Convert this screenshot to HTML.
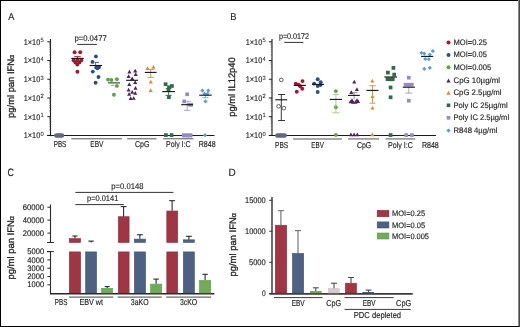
<!DOCTYPE html>
<html><head><meta charset="utf-8"><style>
html,body{margin:0;padding:0;background:#fff;width:520px;height:327px;overflow:hidden}
svg{display:block;will-change:transform}
text{text-rendering:geometricPrecision;font-family:"Liberation Sans",sans-serif;fill:#1e1e1e;stroke:#1e1e1e;stroke-width:0.15px}
</style></head><body>
<svg width="520" height="327" viewBox="0 0 520 327">
<rect width="520" height="327" fill="#fff"/>
<rect x="0" y="0" width="520" height="1" fill="#000" />
<rect x="0" y="0" width="1" height="327" fill="#000" />
<rect x="0" y="326" width="520" height="1" fill="#000" />
<rect x="518" y="0" width="1" height="326" fill="#8a8a8a" />
<rect x="519" y="0" width="1" height="327" fill="#474747" />
<text x="8.2" y="20" font-size="10" textLength="6.1" lengthAdjust="spacingAndGlyphs" fill="#222" >A</text>
<text x="230.3" y="20" font-size="10" textLength="6.2" lengthAdjust="spacingAndGlyphs" fill="#222" >B</text>
<text x="7.6" y="176" font-size="10.6" textLength="6.4" lengthAdjust="spacingAndGlyphs" fill="#222" >C</text>
<text x="228.6" y="175.7" font-size="10.6" textLength="7.2" lengthAdjust="spacingAndGlyphs" fill="#222" >D</text>
<line x1="50.5" y1="39" x2="50.5" y2="136.1" stroke="#222" stroke-width="1.15" />
<line x1="47.3" y1="135.4" x2="50.5" y2="135.4" stroke="#222" stroke-width="1" />
<text x="40.2" y="138.3" font-size="8.2" text-anchor="end" textLength="16.4" lengthAdjust="spacingAndGlyphs" fill="#333" >1×10</text>
<text x="40.4" y="135.70000000000002" font-size="6.0" textLength="3.2" lengthAdjust="spacingAndGlyphs" fill="#333" style="stroke-width:0.05px">0</text>
<line x1="49.2" y1="129.7647184811703" x2="50.5" y2="129.7647184811703" stroke="#555" stroke-width="0.6" />
<line x1="49.2" y1="126.46829011164793" x2="50.5" y2="126.46829011164793" stroke="#555" stroke-width="0.6" />
<line x1="49.2" y1="124.12943696234055" x2="50.5" y2="124.12943696234055" stroke="#555" stroke-width="0.6" />
<line x1="49.2" y1="122.31528151882974" x2="50.5" y2="122.31528151882974" stroke="#555" stroke-width="0.6" />
<line x1="49.2" y1="120.8330085928182" x2="50.5" y2="120.8330085928182" stroke="#555" stroke-width="0.6" />
<line x1="49.2" y1="119.57976469093312" x2="50.5" y2="119.57976469093312" stroke="#555" stroke-width="0.6" />
<line x1="49.2" y1="118.49415544351082" x2="50.5" y2="118.49415544351082" stroke="#555" stroke-width="0.6" />
<line x1="49.2" y1="117.53658022329584" x2="50.5" y2="117.53658022329584" stroke="#555" stroke-width="0.6" />
<line x1="47.3" y1="116.68" x2="50.5" y2="116.68" stroke="#222" stroke-width="1" />
<text x="40.2" y="119.58000000000001" font-size="8.2" text-anchor="end" textLength="16.4" lengthAdjust="spacingAndGlyphs" fill="#333" >1×10</text>
<text x="40.4" y="116.98" font-size="6.0" textLength="3.2" lengthAdjust="spacingAndGlyphs" fill="#333" style="stroke-width:0.05px">1</text>
<line x1="49.2" y1="111.04471848117028" x2="50.5" y2="111.04471848117028" stroke="#555" stroke-width="0.6" />
<line x1="49.2" y1="107.74829011164793" x2="50.5" y2="107.74829011164793" stroke="#555" stroke-width="0.6" />
<line x1="49.2" y1="105.40943696234055" x2="50.5" y2="105.40943696234055" stroke="#555" stroke-width="0.6" />
<line x1="49.2" y1="103.59528151882974" x2="50.5" y2="103.59528151882974" stroke="#555" stroke-width="0.6" />
<line x1="49.2" y1="102.1130085928182" x2="50.5" y2="102.1130085928182" stroke="#555" stroke-width="0.6" />
<line x1="49.2" y1="100.85976469093312" x2="50.5" y2="100.85976469093312" stroke="#555" stroke-width="0.6" />
<line x1="49.2" y1="99.77415544351082" x2="50.5" y2="99.77415544351082" stroke="#555" stroke-width="0.6" />
<line x1="49.2" y1="98.81658022329584" x2="50.5" y2="98.81658022329584" stroke="#555" stroke-width="0.6" />
<line x1="47.3" y1="97.96000000000001" x2="50.5" y2="97.96000000000001" stroke="#222" stroke-width="1" />
<text x="40.2" y="100.86000000000001" font-size="8.2" text-anchor="end" textLength="16.4" lengthAdjust="spacingAndGlyphs" fill="#333" >1×10</text>
<text x="40.4" y="98.26" font-size="6.0" textLength="3.2" lengthAdjust="spacingAndGlyphs" fill="#333" style="stroke-width:0.05px">2</text>
<line x1="49.2" y1="92.32471848117028" x2="50.5" y2="92.32471848117028" stroke="#555" stroke-width="0.6" />
<line x1="49.2" y1="89.02829011164793" x2="50.5" y2="89.02829011164793" stroke="#555" stroke-width="0.6" />
<line x1="49.2" y1="86.68943696234055" x2="50.5" y2="86.68943696234055" stroke="#555" stroke-width="0.6" />
<line x1="49.2" y1="84.87528151882974" x2="50.5" y2="84.87528151882974" stroke="#555" stroke-width="0.6" />
<line x1="49.2" y1="83.3930085928182" x2="50.5" y2="83.3930085928182" stroke="#555" stroke-width="0.6" />
<line x1="49.2" y1="82.13976469093312" x2="50.5" y2="82.13976469093312" stroke="#555" stroke-width="0.6" />
<line x1="49.2" y1="81.05415544351082" x2="50.5" y2="81.05415544351082" stroke="#555" stroke-width="0.6" />
<line x1="49.2" y1="80.09658022329585" x2="50.5" y2="80.09658022329585" stroke="#555" stroke-width="0.6" />
<line x1="47.3" y1="79.24000000000001" x2="50.5" y2="79.24000000000001" stroke="#222" stroke-width="1" />
<text x="40.2" y="82.14000000000001" font-size="8.2" text-anchor="end" textLength="16.4" lengthAdjust="spacingAndGlyphs" fill="#333" >1×10</text>
<text x="40.4" y="79.54" font-size="6.0" textLength="3.2" lengthAdjust="spacingAndGlyphs" fill="#333" style="stroke-width:0.05px">3</text>
<line x1="49.2" y1="73.60471848117028" x2="50.5" y2="73.60471848117028" stroke="#555" stroke-width="0.6" />
<line x1="49.2" y1="70.30829011164793" x2="50.5" y2="70.30829011164793" stroke="#555" stroke-width="0.6" />
<line x1="49.2" y1="67.96943696234055" x2="50.5" y2="67.96943696234055" stroke="#555" stroke-width="0.6" />
<line x1="49.2" y1="66.15528151882974" x2="50.5" y2="66.15528151882974" stroke="#555" stroke-width="0.6" />
<line x1="49.2" y1="64.6730085928182" x2="50.5" y2="64.6730085928182" stroke="#555" stroke-width="0.6" />
<line x1="49.2" y1="63.41976469093312" x2="50.5" y2="63.41976469093312" stroke="#555" stroke-width="0.6" />
<line x1="49.2" y1="62.334155443510824" x2="50.5" y2="62.334155443510824" stroke="#555" stroke-width="0.6" />
<line x1="49.2" y1="61.376580223295846" x2="50.5" y2="61.376580223295846" stroke="#555" stroke-width="0.6" />
<line x1="47.3" y1="60.52000000000001" x2="50.5" y2="60.52000000000001" stroke="#222" stroke-width="1" />
<text x="40.2" y="63.42000000000001" font-size="8.2" text-anchor="end" textLength="16.4" lengthAdjust="spacingAndGlyphs" fill="#333" >1×10</text>
<text x="40.4" y="60.82000000000001" font-size="6.0" textLength="3.2" lengthAdjust="spacingAndGlyphs" fill="#333" style="stroke-width:0.05px">4</text>
<line x1="49.2" y1="54.88471848117028" x2="50.5" y2="54.88471848117028" stroke="#555" stroke-width="0.6" />
<line x1="49.2" y1="51.58829011164793" x2="50.5" y2="51.58829011164793" stroke="#555" stroke-width="0.6" />
<line x1="49.2" y1="49.24943696234055" x2="50.5" y2="49.24943696234055" stroke="#555" stroke-width="0.6" />
<line x1="49.2" y1="47.43528151882974" x2="50.5" y2="47.43528151882974" stroke="#555" stroke-width="0.6" />
<line x1="49.2" y1="45.9530085928182" x2="50.5" y2="45.9530085928182" stroke="#555" stroke-width="0.6" />
<line x1="49.2" y1="44.69976469093312" x2="50.5" y2="44.69976469093312" stroke="#555" stroke-width="0.6" />
<line x1="49.2" y1="43.614155443510825" x2="50.5" y2="43.614155443510825" stroke="#555" stroke-width="0.6" />
<line x1="49.2" y1="42.65658022329585" x2="50.5" y2="42.65658022329585" stroke="#555" stroke-width="0.6" />
<line x1="47.3" y1="41.80000000000001" x2="50.5" y2="41.80000000000001" stroke="#222" stroke-width="1" />
<text x="40.2" y="44.70000000000001" font-size="8.2" text-anchor="end" textLength="16.4" lengthAdjust="spacingAndGlyphs" fill="#333" >1×10</text>
<text x="40.4" y="42.10000000000001" font-size="6.0" textLength="3.2" lengthAdjust="spacingAndGlyphs" fill="#333" style="stroke-width:0.05px">5</text>
<line x1="272.0" y1="39" x2="272.0" y2="136.1" stroke="#222" stroke-width="1.15" />
<line x1="268.8" y1="135.4" x2="272.0" y2="135.4" stroke="#222" stroke-width="1" />
<text x="262.2" y="138.3" font-size="8.2" text-anchor="end" textLength="16.4" lengthAdjust="spacingAndGlyphs" fill="#333" >1×10</text>
<text x="262.4" y="135.70000000000002" font-size="6.0" textLength="3.2" lengthAdjust="spacingAndGlyphs" fill="#333" style="stroke-width:0.05px">0</text>
<line x1="270.7" y1="129.7647184811703" x2="272.0" y2="129.7647184811703" stroke="#555" stroke-width="0.6" />
<line x1="270.7" y1="126.46829011164793" x2="272.0" y2="126.46829011164793" stroke="#555" stroke-width="0.6" />
<line x1="270.7" y1="124.12943696234055" x2="272.0" y2="124.12943696234055" stroke="#555" stroke-width="0.6" />
<line x1="270.7" y1="122.31528151882974" x2="272.0" y2="122.31528151882974" stroke="#555" stroke-width="0.6" />
<line x1="270.7" y1="120.8330085928182" x2="272.0" y2="120.8330085928182" stroke="#555" stroke-width="0.6" />
<line x1="270.7" y1="119.57976469093312" x2="272.0" y2="119.57976469093312" stroke="#555" stroke-width="0.6" />
<line x1="270.7" y1="118.49415544351082" x2="272.0" y2="118.49415544351082" stroke="#555" stroke-width="0.6" />
<line x1="270.7" y1="117.53658022329584" x2="272.0" y2="117.53658022329584" stroke="#555" stroke-width="0.6" />
<line x1="268.8" y1="116.68" x2="272.0" y2="116.68" stroke="#222" stroke-width="1" />
<text x="262.2" y="119.58000000000001" font-size="8.2" text-anchor="end" textLength="16.4" lengthAdjust="spacingAndGlyphs" fill="#333" >1×10</text>
<text x="262.4" y="116.98" font-size="6.0" textLength="3.2" lengthAdjust="spacingAndGlyphs" fill="#333" style="stroke-width:0.05px">1</text>
<line x1="270.7" y1="111.04471848117028" x2="272.0" y2="111.04471848117028" stroke="#555" stroke-width="0.6" />
<line x1="270.7" y1="107.74829011164793" x2="272.0" y2="107.74829011164793" stroke="#555" stroke-width="0.6" />
<line x1="270.7" y1="105.40943696234055" x2="272.0" y2="105.40943696234055" stroke="#555" stroke-width="0.6" />
<line x1="270.7" y1="103.59528151882974" x2="272.0" y2="103.59528151882974" stroke="#555" stroke-width="0.6" />
<line x1="270.7" y1="102.1130085928182" x2="272.0" y2="102.1130085928182" stroke="#555" stroke-width="0.6" />
<line x1="270.7" y1="100.85976469093312" x2="272.0" y2="100.85976469093312" stroke="#555" stroke-width="0.6" />
<line x1="270.7" y1="99.77415544351082" x2="272.0" y2="99.77415544351082" stroke="#555" stroke-width="0.6" />
<line x1="270.7" y1="98.81658022329584" x2="272.0" y2="98.81658022329584" stroke="#555" stroke-width="0.6" />
<line x1="268.8" y1="97.96000000000001" x2="272.0" y2="97.96000000000001" stroke="#222" stroke-width="1" />
<text x="262.2" y="100.86000000000001" font-size="8.2" text-anchor="end" textLength="16.4" lengthAdjust="spacingAndGlyphs" fill="#333" >1×10</text>
<text x="262.4" y="98.26" font-size="6.0" textLength="3.2" lengthAdjust="spacingAndGlyphs" fill="#333" style="stroke-width:0.05px">2</text>
<line x1="270.7" y1="92.32471848117028" x2="272.0" y2="92.32471848117028" stroke="#555" stroke-width="0.6" />
<line x1="270.7" y1="89.02829011164793" x2="272.0" y2="89.02829011164793" stroke="#555" stroke-width="0.6" />
<line x1="270.7" y1="86.68943696234055" x2="272.0" y2="86.68943696234055" stroke="#555" stroke-width="0.6" />
<line x1="270.7" y1="84.87528151882974" x2="272.0" y2="84.87528151882974" stroke="#555" stroke-width="0.6" />
<line x1="270.7" y1="83.3930085928182" x2="272.0" y2="83.3930085928182" stroke="#555" stroke-width="0.6" />
<line x1="270.7" y1="82.13976469093312" x2="272.0" y2="82.13976469093312" stroke="#555" stroke-width="0.6" />
<line x1="270.7" y1="81.05415544351082" x2="272.0" y2="81.05415544351082" stroke="#555" stroke-width="0.6" />
<line x1="270.7" y1="80.09658022329585" x2="272.0" y2="80.09658022329585" stroke="#555" stroke-width="0.6" />
<line x1="268.8" y1="79.24000000000001" x2="272.0" y2="79.24000000000001" stroke="#222" stroke-width="1" />
<text x="262.2" y="82.14000000000001" font-size="8.2" text-anchor="end" textLength="16.4" lengthAdjust="spacingAndGlyphs" fill="#333" >1×10</text>
<text x="262.4" y="79.54" font-size="6.0" textLength="3.2" lengthAdjust="spacingAndGlyphs" fill="#333" style="stroke-width:0.05px">3</text>
<line x1="270.7" y1="73.60471848117028" x2="272.0" y2="73.60471848117028" stroke="#555" stroke-width="0.6" />
<line x1="270.7" y1="70.30829011164793" x2="272.0" y2="70.30829011164793" stroke="#555" stroke-width="0.6" />
<line x1="270.7" y1="67.96943696234055" x2="272.0" y2="67.96943696234055" stroke="#555" stroke-width="0.6" />
<line x1="270.7" y1="66.15528151882974" x2="272.0" y2="66.15528151882974" stroke="#555" stroke-width="0.6" />
<line x1="270.7" y1="64.6730085928182" x2="272.0" y2="64.6730085928182" stroke="#555" stroke-width="0.6" />
<line x1="270.7" y1="63.41976469093312" x2="272.0" y2="63.41976469093312" stroke="#555" stroke-width="0.6" />
<line x1="270.7" y1="62.334155443510824" x2="272.0" y2="62.334155443510824" stroke="#555" stroke-width="0.6" />
<line x1="270.7" y1="61.376580223295846" x2="272.0" y2="61.376580223295846" stroke="#555" stroke-width="0.6" />
<line x1="268.8" y1="60.52000000000001" x2="272.0" y2="60.52000000000001" stroke="#222" stroke-width="1" />
<text x="262.2" y="63.42000000000001" font-size="8.2" text-anchor="end" textLength="16.4" lengthAdjust="spacingAndGlyphs" fill="#333" >1×10</text>
<text x="262.4" y="60.82000000000001" font-size="6.0" textLength="3.2" lengthAdjust="spacingAndGlyphs" fill="#333" style="stroke-width:0.05px">4</text>
<line x1="270.7" y1="54.88471848117028" x2="272.0" y2="54.88471848117028" stroke="#555" stroke-width="0.6" />
<line x1="270.7" y1="51.58829011164793" x2="272.0" y2="51.58829011164793" stroke="#555" stroke-width="0.6" />
<line x1="270.7" y1="49.24943696234055" x2="272.0" y2="49.24943696234055" stroke="#555" stroke-width="0.6" />
<line x1="270.7" y1="47.43528151882974" x2="272.0" y2="47.43528151882974" stroke="#555" stroke-width="0.6" />
<line x1="270.7" y1="45.9530085928182" x2="272.0" y2="45.9530085928182" stroke="#555" stroke-width="0.6" />
<line x1="270.7" y1="44.69976469093312" x2="272.0" y2="44.69976469093312" stroke="#555" stroke-width="0.6" />
<line x1="270.7" y1="43.614155443510825" x2="272.0" y2="43.614155443510825" stroke="#555" stroke-width="0.6" />
<line x1="270.7" y1="42.65658022329585" x2="272.0" y2="42.65658022329585" stroke="#555" stroke-width="0.6" />
<line x1="268.8" y1="41.80000000000001" x2="272.0" y2="41.80000000000001" stroke="#222" stroke-width="1" />
<text x="262.2" y="44.70000000000001" font-size="8.2" text-anchor="end" textLength="16.4" lengthAdjust="spacingAndGlyphs" fill="#333" >1×10</text>
<text x="262.4" y="42.10000000000001" font-size="6.0" textLength="3.2" lengthAdjust="spacingAndGlyphs" fill="#333" style="stroke-width:0.05px">5</text>
<line x1="47" y1="135.5" x2="214.5" y2="135.5" stroke="#1a1a1a" stroke-width="1.2" />
<line x1="269" y1="135.5" x2="436" y2="135.5" stroke="#1a1a1a" stroke-width="1.2" />
<text transform="translate(14.3,86.4) rotate(-90)" x="0" y="0" font-size="9.5" text-anchor="middle" textLength="63" lengthAdjust="spacingAndGlyphs" fill="#222" style="stroke-width:0.3px">pg/ml pan IFN<tspan font-size="7.2">α</tspan></text>
<text transform="translate(235.3,87.0) rotate(-90)" x="0" y="0" font-size="9.5" text-anchor="middle" textLength="59.6" lengthAdjust="spacingAndGlyphs" fill="#222" style="stroke-width:0.3px">pg/ml IL12p40</text>
<text transform="translate(14.1,247.8) rotate(-90)" x="0" y="0" font-size="9.5" text-anchor="middle" textLength="63.6" lengthAdjust="spacingAndGlyphs" fill="#222" style="stroke-width:0.3px">pg/ml pan IFN<tspan font-size="7.2">α</tspan></text>
<text transform="translate(236,244.85) rotate(-90)" x="0" y="0" font-size="9.5" text-anchor="middle" textLength="63.5" lengthAdjust="spacingAndGlyphs" fill="#222" style="stroke-width:0.3px">pg/ml pan IFN<tspan font-size="7.2">α</tspan></text>
<text x="53.7" y="147.4" font-size="8.6" textLength="12.6" lengthAdjust="spacingAndGlyphs" fill="#333" >PBS</text>
<text x="90.3" y="147.4" font-size="8.6" textLength="13.1" lengthAdjust="spacingAndGlyphs" fill="#333" >EBV</text>
<text x="135.0" y="147.4" font-size="8.6" textLength="14.4" lengthAdjust="spacingAndGlyphs" fill="#333" >CpG</text>
<text x="166.0" y="147.4" font-size="8.6" textLength="24.6" lengthAdjust="spacingAndGlyphs" fill="#333" >Poly I:C</text>
<text x="198.8" y="147.4" font-size="8.6" textLength="16.8" lengthAdjust="spacingAndGlyphs" fill="#333" >R848</text>
<line x1="71.3" y1="138.8" x2="121.9" y2="138.8" stroke="#555" stroke-width="1.0" />
<line x1="127.3" y1="138.8" x2="156.5" y2="138.8" stroke="#555" stroke-width="1.0" />
<line x1="163.2" y1="138.8" x2="193.5" y2="138.8" stroke="#555" stroke-width="1.0" />
<text x="275.1" y="147.9" font-size="8.6" textLength="13.1" lengthAdjust="spacingAndGlyphs" fill="#333" >PBS</text>
<text x="311.3" y="147.9" font-size="8.6" textLength="12.5" lengthAdjust="spacingAndGlyphs" fill="#333" >EBV</text>
<text x="356.9" y="147.9" font-size="8.6" textLength="14.4" lengthAdjust="spacingAndGlyphs" fill="#333" >CpG</text>
<text x="388.0" y="147.9" font-size="8.6" textLength="24.8" lengthAdjust="spacingAndGlyphs" fill="#333" >Poly I:C</text>
<text x="421.9" y="147.9" font-size="8.6" textLength="16.9" lengthAdjust="spacingAndGlyphs" fill="#333" >R848</text>
<line x1="293.1" y1="138.9" x2="341.9" y2="138.9" stroke="#8c8c8c" stroke-width="1.5" />
<line x1="348.1" y1="138.9" x2="379.0" y2="138.9" stroke="#8c8c8c" stroke-width="1.5" />
<line x1="385.6" y1="138.9" x2="415.3" y2="138.9" stroke="#8c8c8c" stroke-width="1.5" />
<text x="74.4" y="40.7" font-size="8.3" textLength="32.3" lengthAdjust="spacingAndGlyphs" fill="#333" >p=0.0477</text>
<line x1="77.2" y1="44.4" x2="96.9" y2="44.4" stroke="#333" stroke-width="1.0" />
<text x="278.9" y="39.4" font-size="8.3" textLength="30.2" lengthAdjust="spacingAndGlyphs" fill="#333" >p=0.0172</text>
<line x1="284.3" y1="42.4" x2="303.4" y2="42.4" stroke="#333" stroke-width="1.0" />
<rect x="54.1" y="133.2" width="10.1" height="4.5" rx="2.2" fill="#62677a"/>
<circle cx="74.6" cy="52.3" r="1.95" fill="#a3162f"/>
<circle cx="80.2" cy="52.3" r="1.95" fill="#a3162f"/>
<circle cx="73.6" cy="60.3" r="1.95" fill="#a3162f"/>
<circle cx="77.4" cy="60.0" r="1.95" fill="#a3162f"/>
<circle cx="81.3" cy="60.3" r="1.95" fill="#a3162f"/>
<circle cx="75.4" cy="62.4" r="1.95" fill="#a3162f"/>
<circle cx="79.4" cy="62.4" r="1.95" fill="#a3162f"/>
<circle cx="77.3" cy="64.5" r="1.95" fill="#a3162f"/>
<circle cx="77.4" cy="71.8" r="1.95" fill="#a3162f"/>
<line x1="74.2" y1="56.6" x2="80.8" y2="56.6" stroke="#a3162f" stroke-width="0.9" />
<line x1="77.5" y1="56.6" x2="77.5" y2="58.4" stroke="#a3162f" stroke-width="0.9" />
<line x1="71.3" y1="58.4" x2="83.8" y2="58.4" stroke="#111" stroke-width="1.1" />
<circle cx="95.9" cy="56.4" r="1.95" fill="#2c4f80"/>
<circle cx="92.5" cy="61.9" r="1.95" fill="#2c4f80"/>
<circle cx="96.2" cy="67.6" r="1.95" fill="#2c4f80"/>
<circle cx="99.0" cy="67.2" r="1.95" fill="#2c4f80"/>
<circle cx="97.4" cy="68.2" r="1.95" fill="#2c4f80"/>
<circle cx="92.8" cy="71.6" r="1.95" fill="#2c4f80"/>
<circle cx="98.5" cy="77.0" r="1.95" fill="#2c4f80"/>
<circle cx="95.6" cy="82.7" r="1.95" fill="#2c4f80"/>
<line x1="94.9" y1="62.4" x2="99" y2="62.4" stroke="#2c4f80" stroke-width="0.9" />
<line x1="95.6" y1="62.4" x2="95.6" y2="65.5" stroke="#2c4f80" stroke-width="0.8" />
<line x1="89.6" y1="65.5" x2="102.1" y2="65.5" stroke="#111" stroke-width="1.1" />
<circle cx="108" cy="79.6" r="1.95" fill="#5ea63f"/>
<circle cx="111.4" cy="80.0" r="1.95" fill="#5ea63f"/>
<circle cx="116.9" cy="79.3" r="1.95" fill="#5ea63f"/>
<circle cx="116.9" cy="85.9" r="1.95" fill="#5ea63f"/>
<circle cx="113.9" cy="94.8" r="1.95" fill="#5ea63f"/>
<line x1="108" y1="82.9" x2="120" y2="82.9" stroke="#333" stroke-width="1.1" />
<line x1="110.8" y1="85.3" x2="114.3" y2="85.3" stroke="#5ea63f" stroke-width="0.8" />
<path d="M127.35,73.55L131.45,73.55L129.40,69.86Z" fill="#52205e"/>
<path d="M133.15,72.55L137.25,72.55L135.20,68.86Z" fill="#52205e"/>
<path d="M133.65,76.05L137.75,76.05L135.70,72.36Z" fill="#52205e"/>
<path d="M126.55,78.05L130.65,78.05L128.60,74.36Z" fill="#52205e"/>
<path d="M130.15,80.25L134.25,80.25L132.20,76.56Z" fill="#52205e"/>
<path d="M133.15,83.94L137.25,83.94L135.20,80.25Z" fill="#52205e"/>
<path d="M127.25,86.05L131.35,86.05L129.30,82.36Z" fill="#52205e"/>
<path d="M133.45,89.75L137.55,89.75L135.50,86.06Z" fill="#52205e"/>
<path d="M126.55,91.44L130.65,91.44L128.60,87.75Z" fill="#52205e"/>
<path d="M130.15,93.75L134.25,93.75L132.20,90.06Z" fill="#52205e"/>
<path d="M133.15,94.75L137.25,94.75L135.20,91.06Z" fill="#52205e"/>
<path d="M127.05,95.75L131.15,95.75L129.10,92.06Z" fill="#52205e"/>
<path d="M128.65,100.05L132.75,100.05L130.70,96.36Z" fill="#52205e"/>
<path d="M131.65,99.84L135.75,99.84L133.70,96.16Z" fill="#52205e"/>
<line x1="126.1" y1="80.3" x2="138" y2="80.3" stroke="#111" stroke-width="1.1" />
<path d="M145.45,69.94L149.55,69.94L147.50,66.25Z" fill="#dc8c28"/>
<path d="M151.35,68.75L155.45,68.75L153.40,65.06Z" fill="#dc8c28"/>
<path d="M148.75,83.44L152.85,83.44L150.80,79.75Z" fill="#dc8c28"/>
<path d="M148.65,91.94L152.75,91.94L150.70,88.25Z" fill="#dc8c28"/>
<line x1="147.5" y1="69.6" x2="153.9" y2="69.6" stroke="#dc8c28" stroke-width="0.9" />
<line x1="150.7" y1="69.6" x2="150.7" y2="77.4" stroke="#dc8c28" stroke-width="0.9" />
<line x1="147.5" y1="77.4" x2="153.9" y2="77.4" stroke="#dc8c28" stroke-width="0.9" />
<line x1="144.8" y1="72.4" x2="156.6" y2="72.4" stroke="#111" stroke-width="1.1" />
<rect x="163.75" y="82.35" width="3.7" height="3.7" fill="#2e6a4b" />
<rect x="167.15" y="85.35" width="3.7" height="3.7" fill="#2e6a4b" />
<rect x="170.05" y="84.15" width="3.7" height="3.7" fill="#2e6a4b" />
<rect x="166.65" y="87.65" width="3.7" height="3.7" fill="#2e6a4b" />
<rect x="167.05" y="95.35" width="3.7" height="3.7" fill="#2e6a4b" />
<rect x="164.05" y="133.25" width="3.7" height="3.7" fill="#2e6a4b" />
<rect x="169.75" y="133.25" width="3.7" height="3.7" fill="#2e6a4b" />
<line x1="165.7" y1="88.6" x2="171.5" y2="88.6" stroke="#2e6a4b" stroke-width="0.9" />
<line x1="168.6" y1="88.6" x2="168.6" y2="95.4" stroke="#2e6a4b" stroke-width="0.9" />
<line x1="165.5" y1="95.4" x2="171.6" y2="95.4" stroke="#2e6a4b" stroke-width="0.9" />
<line x1="162.2" y1="91.6" x2="175" y2="91.6" stroke="#111" stroke-width="1.1" />
<rect x="185.25" y="92.45" width="3.7" height="3.7" fill="#968ac4" />
<rect x="182.35" y="99.55" width="3.7" height="3.7" fill="#968ac4" />
<rect x="187.65" y="102.75" width="3.7" height="3.7" fill="#968ac4" />
<rect x="189.35" y="102.95" width="3.7" height="3.7" fill="#968ac4" />
<rect x="181.9" y="133.2" width="10.6" height="4.3" rx="1.0" fill="#968ac4"/>
<line x1="186.5" y1="101.2" x2="190.8" y2="101.2" stroke="#968ac4" stroke-width="0.8" />
<line x1="187.2" y1="101.2" x2="187.2" y2="110.3" stroke="#968ac4" stroke-width="0.8" />
<line x1="184" y1="110.3" x2="190.3" y2="110.3" stroke="#968ac4" stroke-width="0.8" />
<line x1="181.2" y1="104.7" x2="193.1" y2="104.7" stroke="#111" stroke-width="1.1" />
<path d="M202.40,88.50L204.50,90.60L202.40,92.70L200.30,90.60Z" fill="#5a9fd8"/>
<path d="M208.30,88.50L210.40,90.60L208.30,92.70L206.20,90.60Z" fill="#5a9fd8"/>
<path d="M204.50,91.70L206.60,93.80L204.50,95.90L202.40,93.80Z" fill="#5a9fd8"/>
<path d="M207.50,91.70L209.60,93.80L207.50,95.90L205.40,93.80Z" fill="#5a9fd8"/>
<path d="M205.50,99.30L207.60,101.40L205.50,103.50L203.40,101.40Z" fill="#5a9fd8"/>
<path d="M205.00,133.10L207.10,135.20L205.00,137.30L202.90,135.20Z" fill="#5a9fd8"/>
<line x1="202.3" y1="97.7" x2="208.6" y2="97.7" stroke="#5a9fd8" stroke-width="0.8" />
<line x1="205.4" y1="95.2" x2="205.4" y2="97.7" stroke="#5a9fd8" stroke-width="0.8" />
<line x1="199.2" y1="95.2" x2="211.7" y2="95.2" stroke="#111" stroke-width="1.1" />
<rect x="275.1" y="133.2" width="11.8" height="4.5" rx="2.2" fill="#62677a"/>
<circle cx="281.3" cy="79.9" r="1.85" fill="none" stroke="#4c5068" stroke-width="0.9"/>
<circle cx="278.6" cy="106.3" r="1.85" fill="none" stroke="#4c5068" stroke-width="0.9"/>
<circle cx="283.9" cy="108.1" r="1.85" fill="none" stroke="#4c5068" stroke-width="0.9"/>
<line x1="281.3" y1="94.5" x2="281.3" y2="120.5" stroke="#222" stroke-width="0.9" />
<line x1="278.1" y1="94.5" x2="285" y2="94.5" stroke="#222" stroke-width="0.9" />
<line x1="278.1" y1="120.5" x2="285" y2="120.5" stroke="#222" stroke-width="0.9" />
<line x1="275.3" y1="99.8" x2="287.2" y2="99.8" stroke="#111" stroke-width="1.1" />
<circle cx="302.5" cy="81.1" r="1.95" fill="#a3162f"/>
<circle cx="295.8" cy="83.6" r="1.95" fill="#a3162f"/>
<circle cx="298.5" cy="84.6" r="1.95" fill="#a3162f"/>
<circle cx="300.2" cy="86.2" r="1.95" fill="#a3162f"/>
<circle cx="302.3" cy="88.7" r="1.95" fill="#a3162f"/>
<circle cx="296.8" cy="91.7" r="1.95" fill="#a3162f"/>
<line x1="293.7" y1="85.4" x2="305.9" y2="85.4" stroke="#111" stroke-width="1.1" />
<circle cx="317.7" cy="79.3" r="1.95" fill="#2c4f80"/>
<circle cx="320.7" cy="82.3" r="1.95" fill="#2c4f80"/>
<circle cx="314.1" cy="83.6" r="1.95" fill="#2c4f80"/>
<circle cx="317.7" cy="86" r="1.95" fill="#2c4f80"/>
<circle cx="320.5" cy="85" r="1.95" fill="#2c4f80"/>
<circle cx="317.7" cy="92" r="1.95" fill="#2c4f80"/>
<line x1="312.1" y1="84.4" x2="324" y2="84.4" stroke="#111" stroke-width="1.1" />
<circle cx="335.9" cy="91.1" r="1.95" fill="#5ea63f"/>
<circle cx="335.9" cy="107.2" r="1.95" fill="#5ea63f"/>
<circle cx="335.9" cy="134.9" r="1.95" fill="#5ea63f"/>
<line x1="332.6" y1="94.3" x2="339.1" y2="94.3" stroke="#8fc27a" stroke-width="0.8" />
<line x1="335.9" y1="94.3" x2="335.9" y2="112.8" stroke="#8fc27a" stroke-width="0.8" />
<line x1="332.3" y1="112.8" x2="339.6" y2="112.8" stroke="#8fc27a" stroke-width="0.8" />
<line x1="329.8" y1="99.4" x2="342" y2="99.4" stroke="#111" stroke-width="1.1" />
<path d="M352.25,83.55L356.35,83.55L354.30,79.86Z" fill="#52205e"/>
<path d="M354.85,90.94L358.95,90.94L356.90,87.25Z" fill="#52205e"/>
<path d="M349.25,93.94L353.35,93.94L351.30,90.25Z" fill="#52205e"/>
<path d="M348.45,103.34L352.55,103.34L350.50,99.66Z" fill="#52205e"/>
<path d="M350.95,103.84L355.05,103.84L353.00,100.16Z" fill="#52205e"/>
<path d="M353.45,103.64L357.55,103.64L355.50,99.95Z" fill="#52205e"/>
<path d="M355.95,103.05L360.05,103.05L358.00,99.36Z" fill="#52205e"/>
<path d="M349.95,102.05L354.05,102.05L352.00,98.36Z" fill="#52205e"/>
<path d="M354.95,101.84L359.05,101.84L357.00,98.16Z" fill="#52205e"/>
<path d="M348.85,136.25L352.95,136.25L350.90,132.56Z" fill="#52205e"/>
<path d="M352.05,136.25L356.15,136.25L354.10,132.56Z" fill="#52205e"/>
<path d="M355.25,136.25L359.35,136.25L357.30,132.56Z" fill="#52205e"/>
<line x1="354.1" y1="92.6" x2="354.1" y2="99" stroke="#8a6a93" stroke-width="0.8" />
<line x1="352.5" y1="92.6" x2="357.5" y2="92.6" stroke="#8a6a93" stroke-width="0.8" />
<line x1="348" y1="95.4" x2="359.8" y2="95.4" stroke="#111" stroke-width="1.1" />
<path d="M370.25,82.55L374.35,82.55L372.30,78.86Z" fill="#dc8c28"/>
<path d="M370.45,97.94L374.55,97.94L372.50,94.25Z" fill="#dc8c28"/>
<path d="M370.45,109.55L374.55,109.55L372.50,105.86Z" fill="#dc8c28"/>
<path d="M370.25,136.25L374.35,136.25L372.30,132.56Z" fill="#dc8c28"/>
<line x1="369.2" y1="85.7" x2="375.8" y2="85.7" stroke="#dc8c28" stroke-width="0.9" />
<line x1="372.5" y1="85.7" x2="372.5" y2="103.2" stroke="#dc8c28" stroke-width="0.9" />
<line x1="369.4" y1="103.2" x2="375.5" y2="103.2" stroke="#dc8c28" stroke-width="0.9" />
<line x1="366.4" y1="90.4" x2="378.5" y2="90.4" stroke="#111" stroke-width="1.1" />
<rect x="391.55" y="66.05" width="3.7" height="3.7" fill="#2e6a4b" />
<rect x="386.05" y="70.75" width="3.7" height="3.7" fill="#2e6a4b" />
<rect x="392.35" y="72.75" width="3.7" height="3.7" fill="#2e6a4b" />
<rect x="385.65" y="77.35" width="3.7" height="3.7" fill="#2e6a4b" />
<rect x="388.65" y="77.45" width="3.7" height="3.7" fill="#2e6a4b" />
<rect x="390.95" y="77.35" width="3.7" height="3.7" fill="#2e6a4b" />
<rect x="388.75" y="85.65" width="3.7" height="3.7" fill="#2e6a4b" />
<rect x="388.75" y="95.45" width="3.7" height="3.7" fill="#2e6a4b" />
<rect x="388.75" y="133.25" width="3.7" height="3.7" fill="#2e6a4b" />
<line x1="384.3" y1="77" x2="397" y2="77" stroke="#111" stroke-width="1.1" />
<rect x="406.95" y="75.85" width="3.7" height="3.7" fill="#968ac4" />
<rect x="403.65" y="82.85" width="3.7" height="3.7" fill="#968ac4" />
<rect x="406.65" y="82.85" width="3.7" height="3.7" fill="#968ac4" />
<rect x="409.95" y="82.85" width="3.7" height="3.7" fill="#968ac4" />
<rect x="406.95" y="98.85" width="3.7" height="3.7" fill="#968ac4" />
<rect x="404.35" y="133.25" width="3.7" height="3.7" fill="#968ac4" />
<rect x="410.05" y="133.25" width="3.7" height="3.7" fill="#968ac4" />
<line x1="408.8" y1="87.3" x2="408.8" y2="93.1" stroke="#968ac4" stroke-width="0.8" />
<line x1="405.3" y1="93.1" x2="412.3" y2="93.1" stroke="#968ac4" stroke-width="0.8" />
<line x1="402.7" y1="87.2" x2="414.9" y2="87.2" stroke="#111" stroke-width="1.1" />
<path d="M432.90,49.00L435.00,51.10L432.90,53.20L430.80,51.10Z" fill="#5a9fd8"/>
<path d="M421.50,50.80L423.60,52.90L421.50,55.00L419.40,52.90Z" fill="#5a9fd8"/>
<path d="M424.30,51.50L426.40,53.60L424.30,55.70L422.20,53.60Z" fill="#5a9fd8"/>
<path d="M429.80,52.50L431.90,54.60L429.80,56.70L427.70,54.60Z" fill="#5a9fd8"/>
<path d="M425.30,56.90L427.40,59.00L425.30,61.10L423.20,59.00Z" fill="#5a9fd8"/>
<path d="M428.80,57.10L430.90,59.20L428.80,61.30L426.70,59.20Z" fill="#5a9fd8"/>
<path d="M424.30,66.70L426.40,68.80L424.30,70.90L422.20,68.80Z" fill="#5a9fd8"/>
<path d="M429.80,65.70L431.90,67.80L429.80,69.90L427.70,67.80Z" fill="#5a9fd8"/>
<line x1="421.1" y1="56.4" x2="433.2" y2="56.4" stroke="#111" stroke-width="1.1" />
<circle cx="448.5" cy="42.4" r="2.0" fill="#a3162f"/>
<circle cx="448.5" cy="55.0" r="2.0" fill="#2c4f80"/>
<circle cx="448.5" cy="67.3" r="2.0" fill="#5ea63f"/>
<path d="M446.35,82.44L450.65,82.44L448.50,78.56Z" fill="#52205e"/>
<path d="M446.35,94.64L450.65,94.64L448.50,90.77Z" fill="#dc8c28"/>
<rect x="446.70" y="103.50" width="3.6" height="3.6" fill="#2e6a4b" />
<rect x="446.70" y="116.00" width="3.6" height="3.6" fill="#968ac4" />
<path d="M448.50,128.40L450.70,130.60L448.50,132.80L446.30,130.60Z" fill="#5a9fd8"/>
<text x="453.5" y="44.8" font-size="8.0" textLength="33.5" lengthAdjust="spacingAndGlyphs" fill="#222" >MOI=0.25</text>
<text x="453.5" y="57.4" font-size="8.0" textLength="33.5" lengthAdjust="spacingAndGlyphs" fill="#222" >MOI=0.05</text>
<text x="453.5" y="69.7" font-size="8.0" textLength="37.7" lengthAdjust="spacingAndGlyphs" fill="#222" >MOI=0.005</text>
<text x="453.5" y="82.9" font-size="8.0" textLength="46.5" lengthAdjust="spacingAndGlyphs" fill="#222" >CpG 10µg/ml</text>
<text x="453.5" y="95.10000000000001" font-size="8.0" textLength="48.0" lengthAdjust="spacingAndGlyphs" fill="#222" >CpG 2.5µg/ml</text>
<text x="453.5" y="107.7" font-size="8.0" textLength="54.1" lengthAdjust="spacingAndGlyphs" fill="#222" >Poly IC 25µg/ml</text>
<text x="453.5" y="120.2" font-size="8.0" textLength="55.6" lengthAdjust="spacingAndGlyphs" fill="#222" >Poly IC 2.5µg/ml</text>
<text x="453.5" y="133.0" font-size="8.0" textLength="43.9" lengthAdjust="spacingAndGlyphs" fill="#222" >R848 4µg/ml</text>
<line x1="50.5" y1="204.4" x2="50.5" y2="242.5" stroke="#2a2a2a" stroke-width="1.1" />
<line x1="47" y1="242.5" x2="53.9" y2="242.5" stroke="#2a2a2a" stroke-width="1" />
<line x1="50.5" y1="251.6" x2="50.5" y2="293.5" stroke="#2a2a2a" stroke-width="1.1" />
<line x1="47" y1="251.6" x2="53.9" y2="251.6" stroke="#2a2a2a" stroke-width="1" />
<line x1="47.4" y1="207.2" x2="50.5" y2="207.2" stroke="#2a2a2a" stroke-width="1" />
<text x="44.1" y="209.79999999999998" font-size="8.2" text-anchor="end" textLength="21.3" lengthAdjust="spacingAndGlyphs" fill="#333" >60000</text>
<line x1="47.4" y1="220.1" x2="50.5" y2="220.1" stroke="#2a2a2a" stroke-width="1" />
<text x="44.1" y="222.7" font-size="8.2" text-anchor="end" textLength="21.3" lengthAdjust="spacingAndGlyphs" fill="#333" >40000</text>
<line x1="47.4" y1="233.1" x2="50.5" y2="233.1" stroke="#2a2a2a" stroke-width="1" />
<text x="44.1" y="235.7" font-size="8.2" text-anchor="end" textLength="21.3" lengthAdjust="spacingAndGlyphs" fill="#333" >20000</text>
<line x1="47.4" y1="251.6" x2="50.5" y2="251.6" stroke="#2a2a2a" stroke-width="1" />
<text x="44.1" y="254.2" font-size="8.2" text-anchor="end" textLength="16.8" lengthAdjust="spacingAndGlyphs" fill="#333" >5000</text>
<line x1="47.4" y1="259.9" x2="50.5" y2="259.9" stroke="#2a2a2a" stroke-width="1" />
<text x="44.1" y="262.5" font-size="8.2" text-anchor="end" textLength="16.8" lengthAdjust="spacingAndGlyphs" fill="#333" >4000</text>
<line x1="47.4" y1="268.2" x2="50.5" y2="268.2" stroke="#2a2a2a" stroke-width="1" />
<text x="44.1" y="270.8" font-size="8.2" text-anchor="end" textLength="16.8" lengthAdjust="spacingAndGlyphs" fill="#333" >3000</text>
<line x1="47.4" y1="276.5" x2="50.5" y2="276.5" stroke="#2a2a2a" stroke-width="1" />
<text x="44.1" y="279.1" font-size="8.2" text-anchor="end" textLength="16.8" lengthAdjust="spacingAndGlyphs" fill="#333" >2000</text>
<line x1="47.4" y1="284.8" x2="50.5" y2="284.8" stroke="#2a2a2a" stroke-width="1" />
<text x="44.1" y="287.40000000000003" font-size="8.2" text-anchor="end" textLength="16.8" lengthAdjust="spacingAndGlyphs" fill="#333" >1000</text>
<line x1="50" y1="293.8" x2="214.3" y2="293.8" stroke="#262626" stroke-width="1.5" />
<rect x="69.3" y="251.9" width="11.3" height="41.1" fill="#a03544" stroke="#952a3c" stroke-width="0.6"/>
<rect x="85.6" y="251.9" width="11.0" height="41.1" fill="#4d6182" stroke="#42567a" stroke-width="0.6"/>
<rect x="118.3" y="251.9" width="10.8" height="41.1" fill="#a03544" stroke="#952a3c" stroke-width="0.6"/>
<rect x="134.3" y="251.9" width="11.3" height="41.1" fill="#4d6182" stroke="#42567a" stroke-width="0.6"/>
<rect x="166.8" y="251.9" width="10.9" height="41.1" fill="#a03544" stroke="#952a3c" stroke-width="0.6"/>
<rect x="183.3" y="251.9" width="11.1" height="41.1" fill="#4d6182" stroke="#42567a" stroke-width="0.6"/>
<rect x="101.6" y="288.3" width="11.1" height="4.7" fill="#6fab59" stroke="#62a04c" stroke-width="0.6"/>
<line x1="107.2" y1="286.6" x2="107.2" y2="288" stroke="#222" stroke-width="1.05" />
<line x1="104.7" y1="286.6" x2="109.7" y2="286.6" stroke="#222" stroke-width="1.05" />
<rect x="150.5" y="284.1" width="11.2" height="8.9" fill="#6fab59" stroke="#62a04c" stroke-width="0.6"/>
<line x1="156.1" y1="279.1" x2="156.1" y2="283.8" stroke="#222" stroke-width="1.05" />
<line x1="153.35" y1="279.1" x2="158.85" y2="279.1" stroke="#222" stroke-width="1.05" />
<rect x="199.4" y="280.4" width="11.3" height="12.6" fill="#6fab59" stroke="#62a04c" stroke-width="0.6"/>
<line x1="205.1" y1="274.3" x2="205.1" y2="280.1" stroke="#222" stroke-width="1.05" />
<line x1="202.35" y1="274.3" x2="207.85" y2="274.3" stroke="#222" stroke-width="1.05" />
<rect x="69.3" y="238.6" width="11.3" height="3.9" fill="#a03544" stroke="#952a3c" stroke-width="0.6"/>
<line x1="75" y1="236.0" x2="75" y2="238.3" stroke="#222" stroke-width="1.05" />
<line x1="72.4" y1="236.0" x2="77.6" y2="236.0" stroke="#222" stroke-width="1.05" />
<line x1="91.1" y1="241.1" x2="91.1" y2="242.5" stroke="#222" stroke-width="1.05" />
<line x1="88.35" y1="241.1" x2="93.85" y2="241.1" stroke="#222" stroke-width="1.05" />
<rect x="118.3" y="216.7" width="10.8" height="25.8" fill="#a03544" stroke="#952a3c" stroke-width="0.6"/>
<line x1="123.6" y1="206.6" x2="123.6" y2="216.4" stroke="#222" stroke-width="1.05" />
<line x1="120.64999999999999" y1="206.6" x2="126.55" y2="206.6" stroke="#222" stroke-width="1.05" />
<rect x="134.3" y="239.1" width="11.3" height="3.4" fill="#4d6182" stroke="#42567a" stroke-width="0.6"/>
<line x1="139.9" y1="234.8" x2="139.9" y2="238.8" stroke="#222" stroke-width="1.05" />
<line x1="136.95000000000002" y1="234.8" x2="142.85" y2="234.8" stroke="#222" stroke-width="1.05" />
<rect x="166.8" y="211.0" width="10.9" height="31.5" fill="#a03544" stroke="#952a3c" stroke-width="0.6"/>
<line x1="172.1" y1="200.7" x2="172.1" y2="210.7" stroke="#222" stroke-width="1.05" />
<line x1="169.15" y1="200.7" x2="175.04999999999998" y2="200.7" stroke="#222" stroke-width="1.05" />
<rect x="183.3" y="239.8" width="11.1" height="2.7" fill="#4d6182" stroke="#42567a" stroke-width="0.6"/>
<line x1="188.9" y1="236.3" x2="188.9" y2="239.5" stroke="#222" stroke-width="1.05" />
<line x1="185.95000000000002" y1="236.3" x2="191.85" y2="236.3" stroke="#222" stroke-width="1.05" />
<line x1="75.3" y1="204.6" x2="123.8" y2="204.6" stroke="#333" stroke-width="1.0" />
<line x1="75.3" y1="192.4" x2="173.4" y2="192.4" stroke="#333" stroke-width="1.0" />
<text x="87.0" y="200.8" font-size="8.3" textLength="31.3" lengthAdjust="spacingAndGlyphs" fill="#333" >p=0.0141</text>
<text x="111.3" y="189.1" font-size="8.3" textLength="32.3" lengthAdjust="spacingAndGlyphs" fill="#333" >p=0.0148</text>
<line x1="69" y1="297.1" x2="113.3" y2="297.1" stroke="#444" stroke-width="1.0" />
<line x1="117.6" y1="297.1" x2="161.7" y2="297.1" stroke="#444" stroke-width="1.0" />
<line x1="166.2" y1="297.1" x2="211.2" y2="297.1" stroke="#444" stroke-width="1.0" />
<text x="54.8" y="304.9" font-size="8.6" textLength="12.5" lengthAdjust="spacingAndGlyphs" fill="#333" >PBS</text>
<text x="79.4" y="304.9" font-size="8.6" textLength="23.7" lengthAdjust="spacingAndGlyphs" fill="#333" >EBV wt</text>
<text x="130.8" y="304.9" font-size="8.6" textLength="17.8" lengthAdjust="spacingAndGlyphs" fill="#333" >3aKO</text>
<text x="180.0" y="304.9" font-size="8.6" textLength="17.2" lengthAdjust="spacingAndGlyphs" fill="#333" >3cKO</text>
<line x1="272.0" y1="196.9" x2="272.0" y2="293.5" stroke="#5e5e5e" stroke-width="1.8" />
<line x1="269.1" y1="200.3" x2="272.3" y2="200.3" stroke="#333" stroke-width="1" />
<text x="265.7" y="202.9" font-size="8.2" text-anchor="end" textLength="20.7" lengthAdjust="spacingAndGlyphs" fill="#333" >15000</text>
<line x1="269.1" y1="231.2" x2="272.3" y2="231.2" stroke="#333" stroke-width="1" />
<text x="265.7" y="233.79999999999998" font-size="8.2" text-anchor="end" textLength="20.7" lengthAdjust="spacingAndGlyphs" fill="#333" >10000</text>
<line x1="269.1" y1="262.3" x2="272.3" y2="262.3" stroke="#333" stroke-width="1" />
<text x="265.7" y="264.90000000000003" font-size="8.2" text-anchor="end" textLength="16.7" lengthAdjust="spacingAndGlyphs" fill="#333" >5000</text>
<line x1="269.1" y1="293.4" x2="272.3" y2="293.4" stroke="#333" stroke-width="1" />
<text x="265.7" y="296.0" font-size="8.2" text-anchor="end" textLength="3.7" lengthAdjust="spacingAndGlyphs" fill="#333" >0</text>
<line x1="269.4" y1="293.9" x2="412.7" y2="293.9" stroke="#3a3a3a" stroke-width="1.6" />
<rect x="275.3" y="225.2" width="11.4" height="67.8" fill="#a03544" stroke="#952a3c" stroke-width="0.6"/>
<line x1="280.9" y1="210.7" x2="280.9" y2="224.9" stroke="#666" stroke-width="1.05" />
<line x1="277.9" y1="210.7" x2="283.9" y2="210.7" stroke="#666" stroke-width="1.05" />
<rect x="292.4" y="253.4" width="11.3" height="39.6" fill="#4d6182" stroke="#42567a" stroke-width="0.6"/>
<line x1="298" y1="230.6" x2="298" y2="253.1" stroke="#666" stroke-width="1.05" />
<line x1="295.0" y1="230.6" x2="301.0" y2="230.6" stroke="#666" stroke-width="1.05" />
<rect x="310.2" y="291.3" width="11.0" height="1.7" fill="#6fab59" stroke="#62a04c" stroke-width="0.6"/>
<line x1="315.8" y1="287.8" x2="315.8" y2="291" stroke="#444" stroke-width="1.05" />
<line x1="312.90000000000003" y1="287.8" x2="318.7" y2="287.8" stroke="#444" stroke-width="1.05" />
<rect x="328.5" y="288.5" width="10.7" height="4.5" fill="#d4cdcd" stroke="#c8c0c0" stroke-width="0.6"/>
<line x1="334" y1="283.2" x2="334" y2="288.2" stroke="#444" stroke-width="1.05" />
<line x1="331.0" y1="283.2" x2="337.0" y2="283.2" stroke="#444" stroke-width="1.05" />
<rect x="345.4" y="283.2" width="11.1" height="9.8" fill="#a03544" stroke="#952a3c" stroke-width="0.6"/>
<line x1="351" y1="277.5" x2="351" y2="282.9" stroke="#444" stroke-width="1.05" />
<line x1="348.1" y1="277.5" x2="353.9" y2="277.5" stroke="#444" stroke-width="1.05" />
<rect x="362.7" y="292.6" width="11.0" height="0.4" fill="#4d6182" stroke="#42567a" stroke-width="0.6"/>
<line x1="368.6" y1="290.1" x2="368.6" y2="292.3" stroke="#444" stroke-width="1.05" />
<line x1="365.70000000000005" y1="290.1" x2="371.5" y2="290.1" stroke="#444" stroke-width="1.05" />
<line x1="274" y1="297.6" x2="322.5" y2="297.6" stroke="#3a3a3a" stroke-width="1.0" />
<line x1="344.5" y1="297.6" x2="393.6" y2="297.6" stroke="#3a3a3a" stroke-width="1.0" />
<line x1="344.5" y1="309.4" x2="410.8" y2="309.4" stroke="#3a3a3a" stroke-width="1.0" />
<text x="291.7" y="306.1" font-size="8.6" textLength="13.0" lengthAdjust="spacingAndGlyphs" fill="#333" >EBV</text>
<text x="326.3" y="306.1" font-size="8.6" textLength="14.8" lengthAdjust="spacingAndGlyphs" fill="#333" >CpG</text>
<text x="362.7" y="306.1" font-size="8.6" textLength="12.8" lengthAdjust="spacingAndGlyphs" fill="#333" >EBV</text>
<text x="396.1" y="306.1" font-size="8.6" textLength="15.1" lengthAdjust="spacingAndGlyphs" fill="#333" >CpG</text>
<text x="353.8" y="318.2" font-size="8.6" textLength="47.3" lengthAdjust="spacingAndGlyphs" fill="#333" >PDC depleted</text>
<rect x="377.2" y="210.4" width="11.7" height="6.3" fill="#a03544" stroke="#8c2436" stroke-width="0.6"/>
<rect x="377.2" y="221.9" width="11.7" height="6.1" fill="#4d6182" stroke="#3f5478" stroke-width="0.6"/>
<rect x="377.2" y="233.0" width="11.7" height="6.0" fill="#6fab59" stroke="#5f9b4a" stroke-width="0.6"/>
<text x="392" y="216.0" font-size="7.9" textLength="33.2" lengthAdjust="spacingAndGlyphs" fill="#222" >MOI=0.25</text>
<text x="392" y="227.5" font-size="7.9" textLength="33.2" lengthAdjust="spacingAndGlyphs" fill="#222" >MOI=0.05</text>
<text x="392" y="238.8" font-size="7.9" textLength="37" lengthAdjust="spacingAndGlyphs" fill="#222" >MOI=0.005</text>
</svg>
</body></html>
